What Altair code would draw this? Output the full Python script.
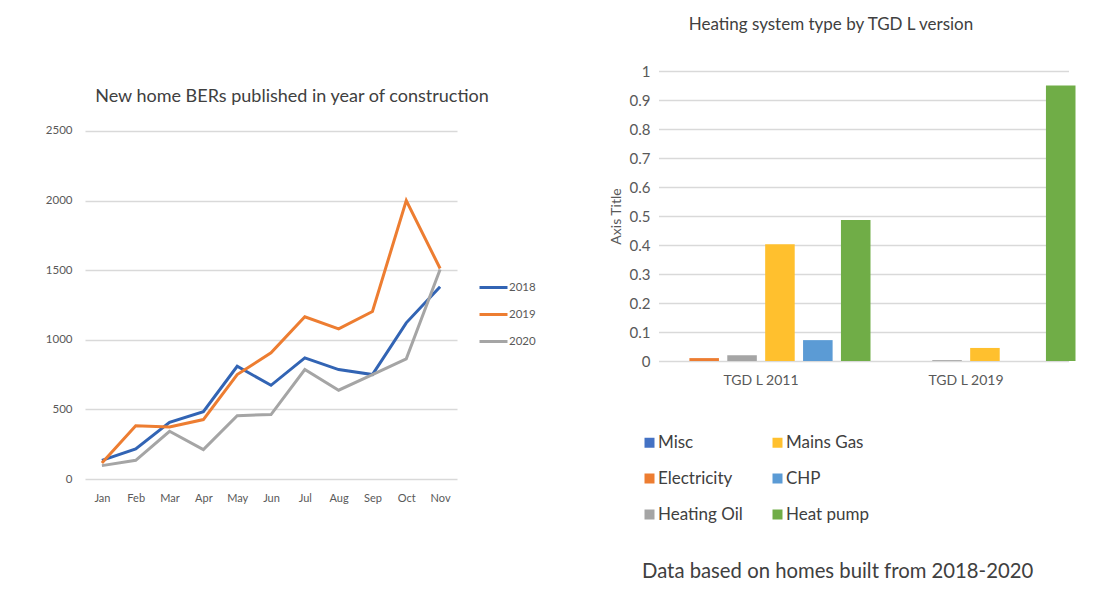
import altair as alt
import pandas as pd

# ---------------- data ----------------
months = ["Jan", "Feb", "Mar", "Apr", "May", "Jun", "Jul", "Aug", "Sep", "Oct", "Nov"]
years = ["2018", "2019", "2020"]
s2018 = [134, 216, 407, 484, 810, 673, 870, 786, 750, 1122, 1381]
s2019 = [115, 383, 374, 427, 750, 906, 1165, 1079, 1203, 2001, 1512]
s2020 = [96, 134, 343, 211, 455, 463, 786, 638, 750, 863, 1505]
year_colors = ["#3264B4", "#ED7D31", "#A5A5A5"]
left_ticks = [0, 500, 1000, 1500, 2000, 2500]

versions = ["TGD L 2011", "TGD L 2019"]
types = ["Misc", "Electricity", "Heating Oil", "Mains Gas", "CHP", "Heat pump"]
v2011 = [0.0, 0.01, 0.02, 0.403, 0.072, 0.486]
v2019 = [0.0, 0.0, 0.003, 0.045, 0.0, 0.950]
type_colors = ["#4472C4", "#ED7D31", "#A5A5A5", "#FFC02E", "#5B9BD5", "#70AD47"]
right_ticks = [0, 0.1, 0.2, 0.3, 0.4, 0.5, 0.6, 0.7, 0.8, 0.9, 1.0]

left_title = "New home BERs published in year of construction"
right_title = "Heating system type by TGD L version"
footnote = "Data based on homes built from 2018-2020"

# ---------------- tables ----------------
rows = []
for y, series in zip(years, [s2018, s2019, s2020]):
    for m, v in zip(months, series):
        rows.append({"month": m, "year": y, "value": v})
df_l = pd.DataFrame(rows)

rows = []
for ver, series in zip(versions, [v2011, v2019]):
    for t, v in zip(types, series):
        rows.append({"version": ver, "type": t, "share": v})
df_r = pd.DataFrame(rows)

TXT = "#595959"
GRID = "#D9D9D9"

left = alt.Chart(df_l).mark_line(strokeWidth=3).encode(
    x=alt.X("month:N", sort=months,
            scale=alt.Scale(type="point", padding=0.5),
            axis=alt.Axis(title=None, labelAngle=0, domain=False, ticks=False, tickSize=0,
                          grid=False, labelPadding=13, labelFontSize=11, labelColor=TXT)),
    y=alt.Y("value:Q", scale=alt.Scale(domain=[0, 2931], nice=False),
            axis=alt.Axis(title=None, values=left_ticks, format="d", domain=False,
                          ticks=False, tickSize=0, grid=True, gridColor=GRID, gridWidth=1.5,
                          labelPadding=13, labelFontSize=11.5, labelColor=TXT)),
    color=alt.Color("year:N", scale=alt.Scale(domain=years, range=year_colors),
                    legend=alt.Legend(title=None, orient="none", legendX=393, legendY=201,
                                      symbolType="stroke", symbolSize=784, symbolStrokeWidth=3,
                                      labelFontSize=11.5, labelColor=TXT, labelOffset=0,
                                      rowPadding=5)),
    order=alt.Order("year:N"),
).properties(
    width=372, height=408,
    title=alt.TitleParams(left_title, fontSize=18, fontWeight="normal", color="#404040",
                          anchor="middle", dx=21, offset=-35),
)

bars = alt.Chart(df_r).mark_bar().encode(
    x=alt.X("version:N", sort=versions,
            scale=alt.Scale(paddingInner=0, paddingOuter=0, range=[-5.5, 404.5]),
            axis=alt.Axis(title=None, labelAngle=0, domain=False, ticks=False, tickSize=0,
                          labelPadding=12, labelFontSize=14, labelColor=TXT)),
    xOffset=alt.XOffset("type:N", sort=types,
                        scale=alt.Scale(paddingInner=0.22, paddingOuter=0, range=[-7, 212])),
    y=alt.Y("share:Q", scale=alt.Scale(domain=[0, 1], nice=False),
            axis=alt.Axis(title="Axis Title", values=right_ticks, format=".1~f",
                          domain=False, ticks=False, tickSize=0, grid=True, gridColor=GRID,
                          gridWidth=1.5, labelPadding=14, labelFontSize=15, labelColor=TXT,
                          titleFontSize=14, titleFontWeight="normal", titleColor=TXT,
                          titlePadding=6)),
    color=alt.Color("type:N",
                    scale=alt.Scale(domain=types, range=type_colors),
                    legend=alt.Legend(title=None, orient="none", legendX=-23, legendY=363,
                                      columns=2, symbolType="square", symbolSize=100,
                                      labelFontSize=17, labelColor="#404040", labelOffset=0,
                                      rowPadding=18, columnPadding=26)),
)

note = alt.Chart(pd.DataFrame({"note": [footnote]})).mark_text(
    align="left", baseline="middle", fontSize=20.3, color="#404040"
).encode(text="note:N", x=alt.value(-22), y=alt.value(501))

right = alt.layer(bars, note).properties(
    width=418, height=290,
    title=alt.TitleParams(right_title, fontSize=17, fontWeight="normal", color="#404040",
                          anchor="middle", dx=-42, offset=30),
)

chart = alt.hconcat(left, right, spacing=207, bounds="flush").resolve_scale(
    color="independent"
).properties(
    padding={"left": 37, "top": 8, "right": 5, "bottom": 5}
).configure(font="Lato").configure_view(stroke=None)

chart.save("out.html", embed_options={"renderer": "svg", "actions": False})
